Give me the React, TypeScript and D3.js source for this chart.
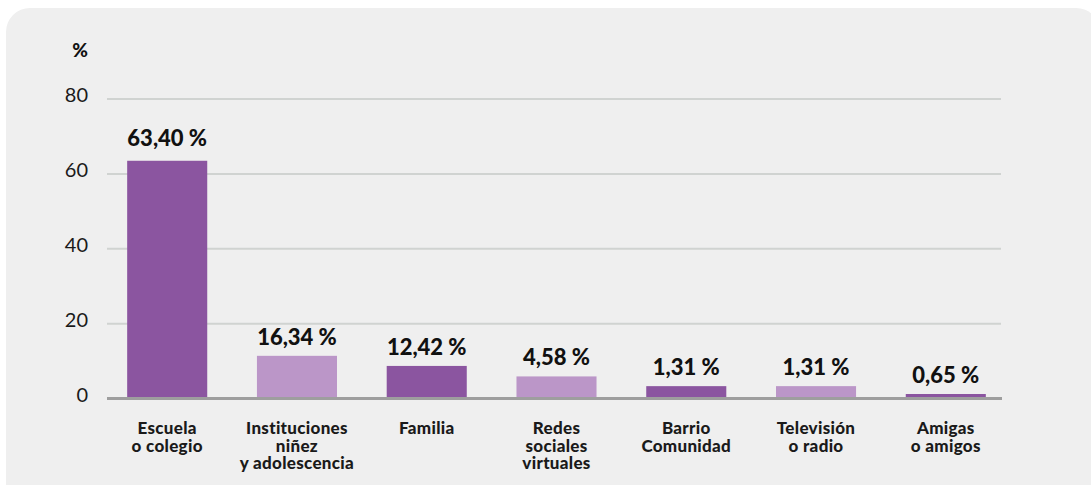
import * as d3 from 'd3';

// categories (line breaks as drawn under the axis)
const categories = [
  'Escuela o colegio',
  'Instituciones niñez y adolescencia',
  'Familia',
  'Redes sociales virtuales',
  'Barrio Comunidad',
  'Televisión o radio',
  'Amigas o amigos'
];
const categoryLines = [
  ['Escuela', 'o colegio'],
  ['Instituciones', 'niñez', 'y adolescencia'],
  ['Familia'],
  ['Redes', 'sociales', 'virtuales'],
  ['Barrio', 'Comunidad'],
  ['Televisión', 'o radio'],
  ['Amigas', 'o amigos']
];
// bar heights as drawn in the picture
const barValues = [63.5, 11.4, 8.7, 5.9, 3.3, 3.3, 1.2];
// the value labels printed above the bars
const valueLabels = ['63,40 %', '16,34 %', '12,42 %', '4,58 %', '1,31 %', '1,31 %', '0,65 %'];
const yTicks = [0, 20, 40, 60, 80];

const W = 1091;
const H = 485;
const DARK = '#8b55a0';
const LIGHT = '#bb96c8';
const FONT = 'Lato, "Open Sans", sans-serif';

export default function App() {
  const x = d3.scaleBand<string>()
    .domain(categories)
    .range([109, 1004])
    .paddingInner(0.383)
    .paddingOuter(0.14);

  const y = d3.scaleLinear()
    .domain([0, 80])
    .range([398.5, 99]);

  return (
    <svg
      width={W}
      height={H}
      style={{ position: 'absolute', left: 0, top: 0, background: '#fff' }}
      fontFamily={FONT}
    >
      <rect x={6} y={8} width={1094} height={500} rx={24} fill="#efefef" />

      <text x={88} y={57} textAnchor="end" fontSize={19} fontWeight={900} fill="#111">%</text>

      {yTicks.map((t) => (
        <g key={t}>
          {t !== 0 && (
            <line x1={107} x2={1001} y1={y(t)} y2={y(t)} stroke="#d0d3d1" strokeWidth={2} />
          )}
          <text x={88} y={y(t) + 3} textAnchor="end" fontSize={20} fill="#1a1a1a">{t}</text>
        </g>
      ))}

      {categories.map((c, i) => {
        const bx = x(c) ?? 0;
        const cx = bx + x.bandwidth() / 2;
        return (
          <g key={c}>
            <rect
              x={bx}
              y={y(barValues[i])}
              width={x.bandwidth()}
              height={y(0) - y(barValues[i])}
              fill={i % 2 === 0 ? DARK : LIGHT}
            />
            <text
              x={cx}
              y={y(barValues[i]) - (i === 0 ? 15 : 11)}
              textAnchor="middle"
              fontSize={22}
              fontWeight={900}
              fill="#111"
            >
              {valueLabels[i]}
            </text>
            {categoryLines[i].map((l, j) => (
              <text
                key={j}
                x={cx}
                y={434 + j * 17.5}
                textAnchor="middle"
                fontSize={17}
                fontWeight={900}
                letterSpacing={0.3}
                fill="#1a1a1a"
              >
                {l}
              </text>
            ))}
          </g>
        );
      })}

      <line x1={107} x2={1002} y1={y(0)} y2={y(0)} stroke="#9e9e9e" strokeWidth={3} />
    </svg>
  );
}
